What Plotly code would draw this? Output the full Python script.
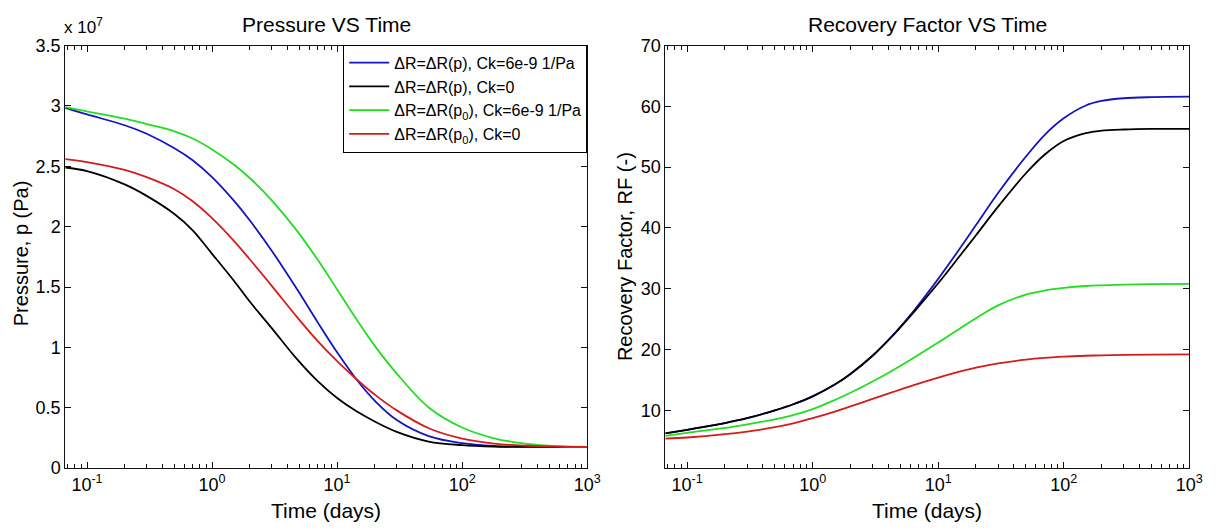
import plotly.graph_objects as go

# ---------------- data ----------------
t_p = [0.067, 0.1, 0.2, 0.3, 0.5, 0.7, 1, 1.5, 2, 3, 4.8, 7, 10, 14.3, 20.5, 30, 54, 100, 180, 330, 600, 1000]
p_blue = [2.985, 2.93, 2.84, 2.77, 2.65, 2.55, 2.41, 2.213, 2.053, 1.801, 1.479, 1.207, 0.959, 0.734, 0.547, 0.398, 0.265, 0.206, 0.183, 0.177, 0.175, 0.175]
p_black = [2.49, 2.46, 2.35, 2.255, 2.105, 1.97, 1.775, 1.55, 1.38, 1.16, 0.90, 0.72, 0.58, 0.47, 0.38, 0.30, 0.22, 0.19, 0.178, 0.175, 0.175, 0.175]
p_green = [2.99, 2.955, 2.895, 2.85, 2.79, 2.73, 2.64, 2.513, 2.403, 2.218, 1.963, 1.725, 1.48, 1.232, 0.998, 0.783, 0.502, 0.336, 0.247, 0.2, 0.181, 0.175]
p_red = [2.56, 2.535, 2.47, 2.41, 2.31, 2.21, 2.07, 1.88, 1.73, 1.51, 1.249, 1.052, 0.886, 0.736, 0.6, 0.478, 0.33, 0.244, 0.203, 0.185, 0.177, 0.175]

t_rf = [0.067, 0.1, 0.2, 0.3, 0.5, 0.7, 1, 1.5, 2, 3, 4.4, 6.3, 10, 15, 20, 30, 50, 70, 100, 150, 200, 300, 500, 1000]
rf_blue = [6.2, 6.8, 7.9, 8.7, 10.0, 11.0, 12.3, 14.24, 15.99, 18.98, 22.47, 26.21, 31.63, 36.73, 40.48, 45.76, 51.75, 55.25, 58.04, 60.15, 60.9, 61.34, 61.52, 61.6]
rf_black = [6.2, 6.8, 7.9, 8.7, 10.0, 11.0, 12.3, 14.24, 15.99, 18.98, 22.4, 26.0, 30.9, 35.5, 38.8, 43.5, 49.0, 52.0, 54.3, 55.6, 56.0, 56.2, 56.3, 56.3]
rf_green = [5.8, 6.3, 7.1, 7.7, 8.5, 9.2, 10.2, 11.7, 12.89, 14.74, 16.65, 18.57, 21.14, 23.52, 25.15, 27.26, 29.04, 29.7, 30.13, 30.45, 30.57, 30.68, 30.76, 30.8]
rf_red = [5.36, 5.53, 6.07, 6.51, 7.22, 7.85, 8.7, 9.79, 10.64, 11.87, 13.03, 14.09, 15.37, 16.39, 17.02, 17.72, 18.34, 18.62, 18.82, 18.98, 19.05, 19.11, 19.16, 19.2]

names = ["ΔR=ΔR(p), Ck=6e-9 1/Pa", "ΔR=ΔR(p), Ck=0",
         "ΔR=ΔR(p<sub>0</sub>), Ck=6e-9 1/Pa", "ΔR=ΔR(p<sub>0</sub>), Ck=0"]
colors = ["#1414c0", "#000000", "#22dd22", "#d41c1c"]

x_tickvals = [0.1, 1, 10, 100, 1000]
x_ticktext = ["10<sup>-1</sup>", "10<sup>0</sup>", "10<sup>1</sup>", "10<sup>2</sup>", "10<sup>3</sup>"]
x_minor = [0.07, 0.08, 0.09,
           0.2, 0.3, 0.4, 0.5, 0.6, 0.7, 0.8, 0.9,
           2, 3, 4, 5, 6, 7, 8, 9,
           20, 30, 40, 50, 60, 70, 80, 90,
           200, 300, 400, 500, 600, 700, 800, 900]
p_tickvals = [0, 0.5e7, 1e7, 1.5e7, 2e7, 2.5e7, 3e7, 3.5e7]
p_ticktext = ["0", "0.5", "1", "1.5", "2", "2.5", "3", "3.5"]
rf_tickvals = [10, 20, 30, 40, 50, 60, 70]

FONT = "Liberation Sans, Arial, sans-serif"

fig = go.Figure()
p_series = [p_blue, p_black, p_green, p_red]
rf_series = [rf_blue, rf_black, rf_green, rf_red]
for name, col, ps in zip(names, colors, p_series):
    fig.add_trace(go.Scatter(x=t_p, y=[v * 1e7 for v in ps], mode="lines", name=name,
                             line=dict(color=col, width=1.8, shape="spline", smoothing=1.0),
                             xaxis="x", yaxis="y"))
for name, col, rs in zip(names, colors, rf_series):
    fig.add_trace(go.Scatter(x=t_rf, y=rs, mode="lines", name=name, showlegend=False,
                             line=dict(color=col, width=1.8, shape="spline", smoothing=1.0),
                             xaxis="x2", yaxis="y2"))
# invisible carriers for the minor-tick overlay axes
fig.add_trace(go.Scatter(x=t_p, y=[v * 1e7 for v in p_blue], mode="lines", opacity=0,
                         showlegend=False, hoverinfo="skip", xaxis="x3", yaxis="y"))
fig.add_trace(go.Scatter(x=t_rf, y=rf_blue, mode="lines", opacity=0,
                         showlegend=False, hoverinfo="skip", xaxis="x4", yaxis="y2"))

W, H = 1224, 531
L1, R1, L2, R2, TOP, BOT = 66, 594, 673, 1203, 37, 476

axis_common = dict(showline=True, linecolor="#111", linewidth=1, mirror="ticks",
                   ticks="inside", ticklen=6, tickwidth=1.3, tickcolor="#111", showgrid=False,
                   zeroline=False, tickfont=dict(family=FONT, size=18, color="#000"))
minor_axis = dict(type="log", showline=True, linecolor="#111", linewidth=1, mirror="ticks",
                  ticks="inside", ticklen=4, tickwidth=1.3, tickcolor="#111", showgrid=False,
                  zeroline=False, tickmode="array", tickvals=x_minor, showticklabels=False)
xmin = -1.174
fig.update_layout(
    width=W, height=H, margin=dict(l=0, r=0, t=0, b=0),
    paper_bgcolor="white", plot_bgcolor="white",
    font=dict(family=FONT, color="#000"),
    xaxis=dict(domain=[L1 / W, R1 / W], type="log", range=[xmin, 3], tickvals=x_tickvals,
               ticktext=x_ticktext, anchor="y", **axis_common),
    yaxis=dict(domain=[1 - BOT / H, 1 - TOP / H], range=[0, 3.5e7], tickvals=p_tickvals,
               ticktext=p_ticktext, anchor="x", **axis_common),
    xaxis2=dict(domain=[L2 / W, R2 / W], type="log", range=[xmin, 3], tickvals=x_tickvals,
                ticktext=x_ticktext, anchor="y2", **axis_common),
    yaxis2=dict(domain=[1 - BOT / H, 1 - TOP / H], range=[0.5, 70], tickvals=rf_tickvals,
                anchor="x2", **axis_common),
    xaxis3=dict(overlaying="x", anchor="y", range=[xmin, 3], **minor_axis),
    xaxis4=dict(overlaying="x2", anchor="y2", range=[xmin, 3], **minor_axis),
    legend=dict(x=594 / W, y=1 - 36 / H, xanchor="right", yanchor="top",
                bgcolor="white", bordercolor="#000", borderwidth=1,
                font=dict(family=FONT, size=16, color="#000"), itemwidth=40,
                tracegroupgap=0),
    showlegend=True,
)

def a(text, x, y, size=21, angle=0, xanchor="center", yanchor="middle"):
    return dict(text=text, x=x / W, y=1 - y / H, xref="paper", yref="paper", showarrow=False,
                textangle=angle, xanchor=xanchor, yanchor=yanchor, font=dict(family=FONT, size=size))

ann = [
    a("Pressure VS Time", (L1 + R1) / 2, 15),
    a("Recovery Factor VS Time", (L2 + R2) / 2, 15),
    a("Time (days)", (L1 + R1) / 2, 520),
    a("Time (days)", (L2 + R2) / 2, 520),
    a("Pressure, p (Pa)", 22, 253, size=20, angle=-90),
    a("Recovery Factor, RF (-)", 633, 256, size=20, angle=-90),
    a("x 10<sup>7</sup>", 63, 30, size=17, xanchor="left", yanchor="bottom"),
]
fig.update_layout(annotations=ann)

fig.write_html("out.html")
